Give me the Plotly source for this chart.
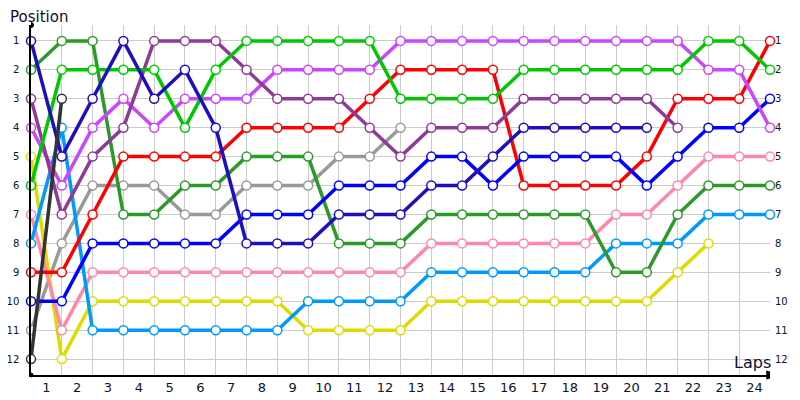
import plotly.graph_objects as go

# positions per lap, index 0 = start grid, then laps 1..24
laps = list(range(25))
lap_labels = [str(i) for i in range(1, 25)]
positions = list(range(1, 13))

navy = [1, 5, 3, 1, 3, 2, 4, 8, 8, 8, 7, 7, 7, 6, 6, 5, 4, 4, 4, 4, 4]
blue = [10, 10, 8, 8, 8, 8, 8, 7, 7, 7, 6, 6, 6, 5, 5, 6, 5, 5, 5, 5, 6, 5, 4, 4, 3]
dark_green = [2, 1, 1, 7, 7, 6, 6, 5, 5, 5, 8, 8, 8, 7, 7, 7, 7, 7, 7, 9, 9, 7, 6, 6, 6]
purple = [3, 7, 5, 4, 1, 1, 1, 2, 3, 3, 3, 4, 5, 4, 4, 4, 3, 3, 3, 3, 3, 4]
violet = [4, 6, 4, 3, 4, 3, 3, 3, 2, 2, 2, 2, 1, 1, 1, 1, 1, 1, 1, 1, 1, 1, 2, 2, 4]
yellow = [5, 12, 10, 10, 10, 10, 10, 10, 10, 11, 11, 11, 11, 10, 10, 10, 10, 10, 10, 10, 10, 9, 8]
bright_green = [6, 2, 2, 2, 2, 4, 2, 1, 1, 1, 1, 1, 3, 3, 3, 3, 2, 2, 2, 2, 2, 2, 1, 1, 2]
pink = [7, 11, 9, 9, 9, 9, 9, 9, 9, 9, 9, 9, 9, 8, 8, 8, 8, 8, 8, 7, 7, 6, 5, 5, 5]
light_blue = [8, 4, 11, 11, 11, 11, 11, 11, 11, 10, 10, 10, 10, 9, 9, 9, 9, 9, 9, 8, 8, 8, 7, 7, 7]
red = [9, 9, 7, 5, 5, 5, 5, 4, 4, 4, 4, 3, 2, 2, 2, 2, 6, 6, 6, 6, 5, 3, 3, 3, 1]
gray = [11, 8, 6, 6, 6, 7, 7, 6, 6, 6, 5, 5, 4]
black = [12, 3]

drivers = [
    (gray, '#999999'),
    (yellow, '#dcdc00'),
    (pink, '#ff88aa'),
    (light_blue, '#0099ff'),
    (dark_green, '#2a9a2a'),
    (red, '#ff0000'),
    (blue, '#0000ff'),
    (violet, '#cc44ff'),
    (purple, '#8e3a99'),
    (bright_green, '#00c800'),
    (navy, '#1e0fbe'),
]

fig = go.Figure()

for pos, color in drivers:
    fig.add_trace(go.Scatter(
        x=laps[:len(pos)], y=pos, mode='lines+markers',
        line=dict(color=color, width=3.5),
        marker=dict(size=9, color='white', line=dict(color=color, width=1.5)),
        cliponaxis=False, showlegend=False
    ))

# black car on the right-hand axis so the right labels get drawn
fig.add_trace(go.Scatter(
    x=laps[:len(black)], y=black, mode='lines+markers', yaxis='y2',
    line=dict(color='#333333', width=3.5),
    marker=dict(size=9, color='white', line=dict(color='#333333', width=1.5)),
    cliponaxis=False, showlegend=False
))

label_font = dict(family='DejaVu Sans', size=10, color='#101030')
yrange = [12.55, 0.45]

# page body adds an 8px margin, so the figure is 8px smaller each way
fig.update_layout(
    width=792, height=392,
    margin=dict(l=23, r=30, t=17, b=25),
    plot_bgcolor='white', paper_bgcolor='white',
    xaxis=dict(
        range=[0, 24], automargin=False,
        tickvals=[i + 0.5 for i in range(24)],
        ticktext=lap_labels,
        tickfont=dict(family='DejaVu Sans', size=13, color='#101030'),
        showgrid=False, zeroline=False, ticks='',
        showline=True, linecolor='black', linewidth=1.5,
        minor=dict(tick0=0, dtick=1, showgrid=True, gridcolor='#cccccc', gridwidth=1, ticks=''),
    ),
    yaxis=dict(
        range=yrange, tickvals=positions, tickfont=label_font, automargin=False,
        showgrid=True, gridcolor='#cccccc', gridwidth=1, zeroline=False,
        ticks='', showline=True, linecolor='black', linewidth=1.5,
        ticklabelstandoff=8,
    ),
    yaxis2=dict(
        range=yrange, tickvals=positions, tickfont=label_font, automargin=False,
        overlaying='y', side='right', anchor='x',
        showgrid=False, zeroline=False, ticks='', showline=False,
        ticklabelstandoff=4,
    ),
)

# axis decorations: arrow on the laps axis, dots at the axis ends
fig.add_shape(type='path', xref='x', yref='paper', xsizemode='pixel', ysizemode='pixel',
              xanchor=24, yanchor=0, path='M 0 0 L 9 0 M 9 0 L -3 3.5 L -3 -3.5 Z',
              line=dict(color='black', width=1.5), fillcolor='black')
fig.add_shape(type='circle', xref='x', yref='paper', xsizemode='pixel', ysizemode='pixel',
              xanchor=0, yanchor=1, x0=-2.5, x1=2.5, y0=-2.5, y1=2.5,
              line=dict(color='black', width=1), fillcolor='black')
fig.add_shape(type='circle', xref='x', yref='paper', xsizemode='pixel', ysizemode='pixel',
              xanchor=0, yanchor=0, x0=-2, x1=2, y0=-2, y1=2,
              line=dict(color='black', width=1), fillcolor='black')

fig.add_annotation(text='Position', xref='paper', yref='paper', x=0, y=1,
                   xanchor='left', yanchor='middle', xshift=-23, yshift=8, showarrow=False,
                   font=dict(family='DejaVu Sans', size=15, color='#101030'))
fig.add_annotation(text='Laps', xref='x', yref='paper', x=24, y=0,
                   xanchor='right', yanchor='middle', xshift=3, yshift=13, showarrow=False,
                   font=dict(family='DejaVu Sans', size=16, color='#101030'))

fig.write_html("out.html")
